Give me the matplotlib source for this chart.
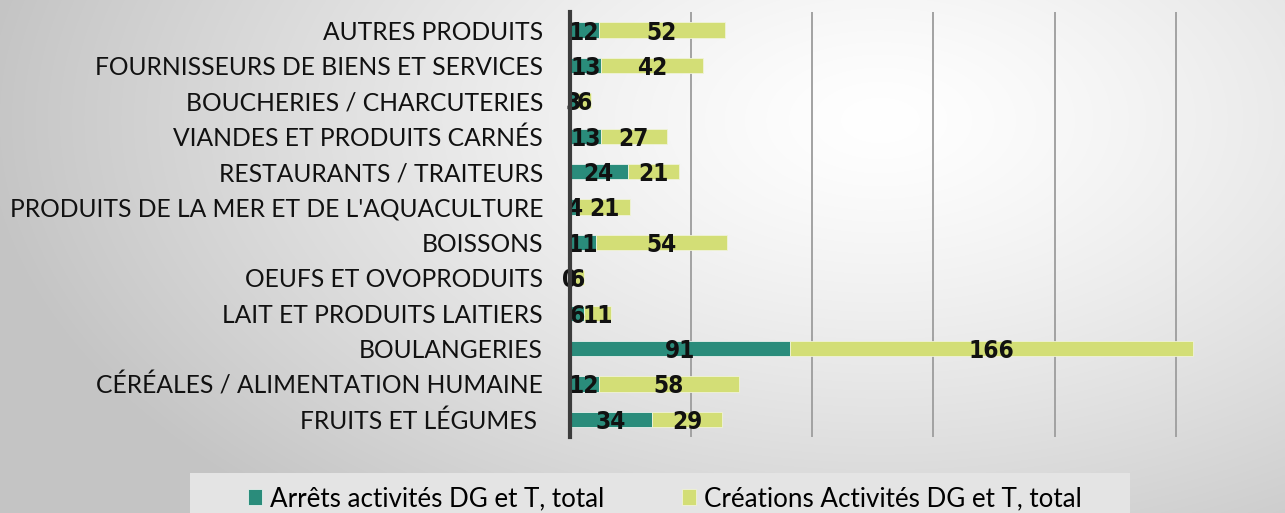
import numpy as np
import matplotlib.pyplot as plt
from matplotlib.patches import Rectangle

categories = [
    "FRUITS ET LÉGUMES ",
    "CÉRÉALES / ALIMENTATION HUMAINE",
    "BOULANGERIES",
    "LAIT ET PRODUITS LAITIERS",
    "OEUFS ET OVOPRODUITS",
    "BOISSONS",
    "PRODUITS DE LA MER ET DE L'AQUACULTURE",
    "RESTAURANTS / TRAITEURS",
    "VIANDES ET PRODUITS CARNÉS",
    "BOUCHERIES / CHARCUTERIES",
    "FOURNISSEURS DE BIENS ET SERVICES",
    "AUTRES PRODUITS",
]
arrets = [34, 12, 91, 6, 0, 11, 4, 24, 13, 3, 13, 12]
creations = [29, 58, 166, 11, 6, 54, 21, 21, 27, 6, 42, 52]

label_arrets = "Arrêts activités DG et T, total"
label_creations = "Créations Activités DG et T, total"

teal = "#2a8c7b"
lime = "#d3de76"

fig = plt.figure(figsize=(12.85, 5.13), dpi=100)

# fond en degrade radial gris
bg = fig.add_axes([0, 0, 1, 1], zorder=-10)
yy, xx = np.mgrid[0:513, 0:1285]
d = np.sqrt(((xx - 880) / 900.0) ** 2 + ((yy - 120) / 520.0) ** 2)
d = np.clip(d, 0, 1)
val = 1.0 - 0.23 * d ** 1.3
bg.imshow(np.dstack([val, val, val]), aspect="auto", extent=[0, 1, 0, 1])
bg.set_axis_off()

ax = fig.add_axes([0.4432, 0.148, 0.5568, 0.828])
ax.set_facecolor("none")
y = np.arange(len(categories))

b1 = ax.barh(y, arrets, height=0.43, color=teal, edgecolor="#e8f0ec",
             linewidth=0.6, label=label_arrets, zorder=3)
b2 = ax.barh(y, creations, left=arrets, height=0.43, color=lime,
             edgecolor="#f0f3d8", linewidth=0.6, label=label_creations, zorder=3)

for bars in (b1, b2):
    labels = ax.bar_label(bars, label_type="center", zorder=5)
    for t in labels:
        t.set_family("DejaVu Sans")
        t.set_stretch("condensed")
        t.set_weight("bold")
        t.set_size(17.5)
        t.set_color("#111111")
        t.set_verticalalignment("center_baseline")

ax.set_xlim(0, 295)
ax.set_ylim(-0.5, len(categories) - 0.5)
ax.set_xticks([50, 100, 150, 200, 250])
ax.set_xticklabels([])
ax.tick_params(axis="x", length=0)
ax.grid(axis="x", color="#a2a2a2", linewidth=1.4, zorder=0)
ax.set_yticks(y)
ax.set_yticklabels(categories, family="Lato", fontsize=17.7, color="#111111")
ax.tick_params(axis="y", length=0, pad=19)

for s in ("top", "right", "bottom"):
    ax.spines[s].set_visible(False)
ax.spines["left"].set_color("#3c3c3c")
ax.spines["left"].set_linewidth(3)
ax.spines["left"].set_zorder(6)

# cadre de la legende
fig.patches.append(Rectangle((190 / 1285, 0), 940 / 1285, 40 / 513,
                             transform=fig.transFigure, facecolor="#e4e4e4",
                             edgecolor="none", zorder=-5))
fig.legend(handles=[b1, b2], loc="center", bbox_to_anchor=(0.5175, 0.028),
           ncol=2, frameon=False, handlelength=0.55, handleheight=0.55,
           handletextpad=0.3, columnspacing=3.0,
           prop=dict(family="Lato", size=18.7))

fig.savefig("out.png", dpi=100)
